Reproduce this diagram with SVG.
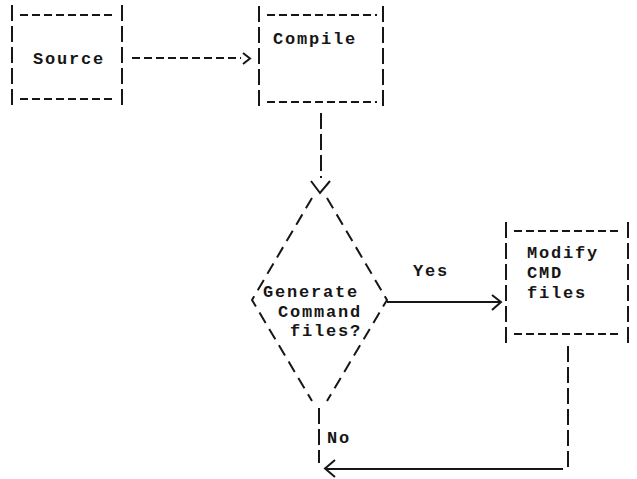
<svg xmlns="http://www.w3.org/2000/svg" width="637" height="479" viewBox="0 0 637 479">
<style>
.l{stroke:#161616;stroke-width:2;fill:none;stroke-linecap:butt}
.h{stroke-dasharray:8 4}
.v{stroke-dasharray:16 5}
.g{stroke-dasharray:12 7}
.s{stroke-linejoin:miter}
text{font-family:"Liberation Mono","DejaVu Sans Mono",monospace;font-size:17px;font-weight:bold;letter-spacing:1.8px;fill:#161616}
</style>
<rect width="637" height="479" fill="#ffffff"/>
<g id="source">
<path class="l v" d="M12,5V108M122,5V108"/>
<path class="l h" d="M20,15H116M20,99H116"/>
<text x="33" y="64">Source</text>
</g>
<g id="compile">
<path class="l v" d="M259,6V109M383,6V109"/>
<path class="l h" d="M267,15H377M267,102H377"/>
<text x="273" y="44">Compile</text>
</g>
<g id="decision">
<path class="l g" d="M312,198L252,300L312,401M327,198L387,300L327,401"/>
<text x="263" y="297">Generate</text>
<text x="278" y="317">Command</text>
<text x="290" y="336">files?</text>
</g>
<g id="modify">
<path class="l v" d="M506,222V343M628,222V343"/>
<path class="l h" d="M514,231H622M514,334H622"/>
<text x="527" y="258">Modify</text>
<text x="527" y="278">CMD</text>
<text x="527" y="298">files</text>
</g>
<g id="connectors">
<path class="l h" d="M132,58H241"/>
<path class="l s" d="M243,53L250,58.5L243,64"/>
<path class="l v" d="M321,113V178"/>
<path class="l s" d="M311,181L320,193L330,181"/>
<path class="l" d="M387,302H500"/>
<path class="l s" d="M492,295L501,302L492,310"/>
<text x="413" y="276">Yes</text>
<path class="l v" d="M568,346V467"/>
<path class="l" d="M563,469H326"/>
<path class="l s" d="M335,460L325,468.5L335,477"/>
<path class="l v" d="M319,408V463"/>
<text x="327" y="443">No</text>
</g>
</svg>
